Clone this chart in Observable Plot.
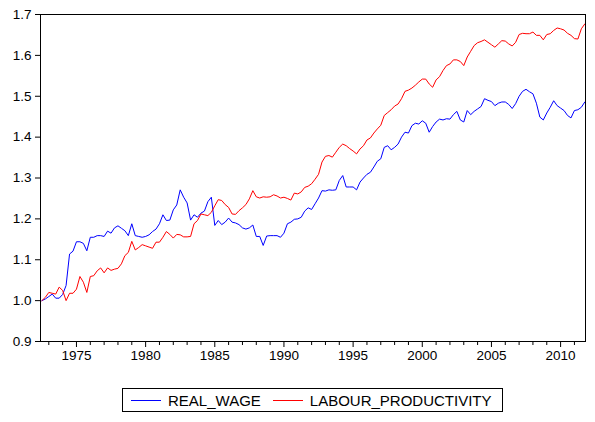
<!DOCTYPE html>
<html>
<head>
<meta charset="utf-8">
<script src="https://cdn.jsdelivr.net/npm/d3@7"></script>
<script src="https://cdn.jsdelivr.net/npm/@observablehq/plot@0.6"></script>
<style>
  html, body { margin: 0; padding: 0; background: #fff; }
  body { width: 595px; height: 422px; overflow: hidden; font-family: "Liberation Sans", Arial, sans-serif; }
  #chart svg { overflow: visible; }
  #legend {
    position: absolute; left: 122px; top: 388px; width: 379px; height: 22px;
    border: 1px solid #000; box-sizing: content-box;
    font-size: 15px; color: #000; display: flex; align-items: center;
  }
  .sw { display: inline-block; width: 30px; height: 0; border-top: 1px solid; margin: 0 7px 0 8px; }
</style>
</head>
<body>
<div id="chart"></div>
<div id="legend">
  <span class="sw" style="border-color:#0000ff"></span><span>REAL_WAGE</span>
  <span class="sw" style="border-color:#ff0000; margin-left:12px"></span><span>LABOUR_PRODUCTIVITY</span>
</div>
<script>
// Quarterly observations, 1972Q3 .. 2011Q4
const startYear = 1972.5;
const realWage = [
  1.000, 1.004, 1.010, 1.016, 1.006, 1.006, 1.015, 1.037, 1.114, 1.121,
  1.144, 1.144, 1.140, 1.122, 1.155, 1.155, 1.159, 1.159, 1.157, 1.170,
  1.165, 1.178, 1.183, 1.177, 1.171, 1.159, 1.188, 1.159, 1.157, 1.155,
  1.157, 1.161, 1.169, 1.175, 1.188, 1.210, 1.196, 1.197, 1.222, 1.234,
  1.271, 1.253, 1.239, 1.197, 1.210, 1.204, 1.214, 1.219, 1.242, 1.253,
  1.184, 1.196, 1.186, 1.192, 1.202,
  1.192, 1.190, 1.186, 1.178, 1.175, 1.178, 1.185, 1.157, 1.157, 1.135,
  1.158, 1.159, 1.159, 1.159, 1.155, 1.165, 1.188, 1.192, 1.199, 1.200,
  1.204, 1.219, 1.227, 1.223, 1.237, 1.251, 1.269,
  1.268, 1.271, 1.270, 1.271, 1.294, 1.306, 1.278, 1.278, 1.278, 1.271,
  1.290, 1.300, 1.309, 1.314, 1.327, 1.341, 1.347, 1.375, 1.379, 1.369,
  1.375, 1.383, 1.400, 1.412, 1.410, 1.428, 1.434, 1.432, 1.440,
  1.434, 1.412, 1.426, 1.437, 1.444, 1.442, 1.445, 1.444, 1.455, 1.463,
  1.442, 1.437, 1.465, 1.455, 1.463, 1.469, 1.475, 1.494, 1.490, 1.487,
  1.477, 1.483,
  1.486, 1.486, 1.480, 1.470, 1.482, 1.500, 1.512, 1.517, 1.511, 1.506,
  1.483, 1.449, 1.442, 1.459, 1.473, 1.489, 1.477, 1.471, 1.465, 1.453,
  1.447, 1.465, 1.467, 1.473, 1.486
];
const labourProductivity = [
  1.000, 1.008, 1.020, 1.018, 1.016, 1.033, 1.025, 1.000, 1.018, 1.018,
  1.028, 1.059, 1.045, 1.020, 1.059, 1.061, 1.073, 1.080, 1.068, 1.080,
  1.074, 1.077, 1.079, 1.090, 1.110, 1.118, 1.145, 1.124, 1.130, 1.137,
  1.134, 1.131, 1.128, 1.143, 1.143, 1.155, 1.169, 1.162, 1.153, 1.162,
  1.161, 1.156, 1.156, 1.157, 1.188, 1.196, 1.212, 1.210, 1.208, 1.216,
  1.232, 1.247, 1.245, 1.235, 1.228,
  1.212, 1.211, 1.220, 1.227, 1.235, 1.249, 1.269, 1.254, 1.251, 1.254,
  1.253, 1.254, 1.259, 1.256, 1.251, 1.253, 1.250, 1.246, 1.263, 1.261,
  1.266, 1.277, 1.280, 1.286, 1.297, 1.309, 1.339,
  1.353, 1.355, 1.351, 1.363, 1.375, 1.383, 1.379, 1.372, 1.366, 1.359,
  1.371, 1.379, 1.393, 1.398, 1.410, 1.420, 1.429, 1.453, 1.460, 1.467,
  1.476, 1.481, 1.494, 1.512, 1.515, 1.520, 1.527, 1.535, 1.542,
  1.542, 1.530, 1.522, 1.540, 1.548, 1.563, 1.575, 1.579, 1.589, 1.589,
  1.585, 1.575, 1.596, 1.610, 1.624, 1.631, 1.634, 1.638, 1.632, 1.626,
  1.620, 1.628,
  1.636, 1.635, 1.628, 1.623, 1.632, 1.651, 1.654, 1.653, 1.653, 1.657,
  1.649, 1.649, 1.638, 1.651, 1.653, 1.661, 1.667, 1.665, 1.662, 1.654,
  1.649, 1.641, 1.640, 1.665, 1.677
];
const majorYearTicks = [1975, 1980, 1985, 1990, 1995, 2000, 2005, 2010];
const minorYearTicks = [1973, 1974, 1976, 1977, 1978, 1979, 1981, 1982, 1983, 1984,
  1986, 1987, 1988, 1989, 1991, 1992, 1993, 1994, 1996, 1997, 1998, 1999,
  2001, 2002, 2003, 2004, 2006, 2007, 2008, 2009, 2011];
const yTicks = [0.9, 1.0, 1.1, 1.2, 1.3, 1.4, 1.5, 1.6, 1.7];

const rows = [];
realWage.forEach((v, i) => rows.push({t: startYear + i / 4, v, s: "REAL_WAGE"}));
labourProductivity.forEach((v, i) => rows.push({t: startYear + i / 4, v, s: "LABOUR_PRODUCTIVITY"}));

const chart = Plot.plot({
  width: 595,
  height: 372,
  marginLeft: 40,
  marginRight: 10,
  marginTop: 14,
  marginBottom: 31,
  style: {fontFamily: "'Liberation Sans', Arial, sans-serif", fontSize: "13.5px", color: "#000", background: "#fff"},
  x: {domain: [1972.4, 2011.8], label: null},
  y: {domain: [0.9, 1.7], label: null},
  color: {domain: ["REAL_WAGE", "LABOUR_PRODUCTIVITY"], range: ["#0000ff", "#ff0000"]},
  marks: [
    Plot.axisX(majorYearTicks, {tickSize: 6, tickPadding: 3, tickFormat: d => String(d), label: null, stroke: "#000"}),
    Plot.axisX(minorYearTicks, {tickSize: 4, tickFormat: () => "", label: null, stroke: "#000"}),
    Plot.axisY(yTicks, {tickSize: 5, tickPadding: 4, tickFormat: d => d.toFixed(1), label: null, stroke: "#000"}),
    Plot.line(rows, {x: "t", y: "v", z: "s", stroke: "s", strokeWidth: 1}),
    Plot.frame({stroke: "#000", strokeWidth: 1})
  ]
});
document.getElementById("chart").appendChild(chart);
</script>
</body>
</html>
